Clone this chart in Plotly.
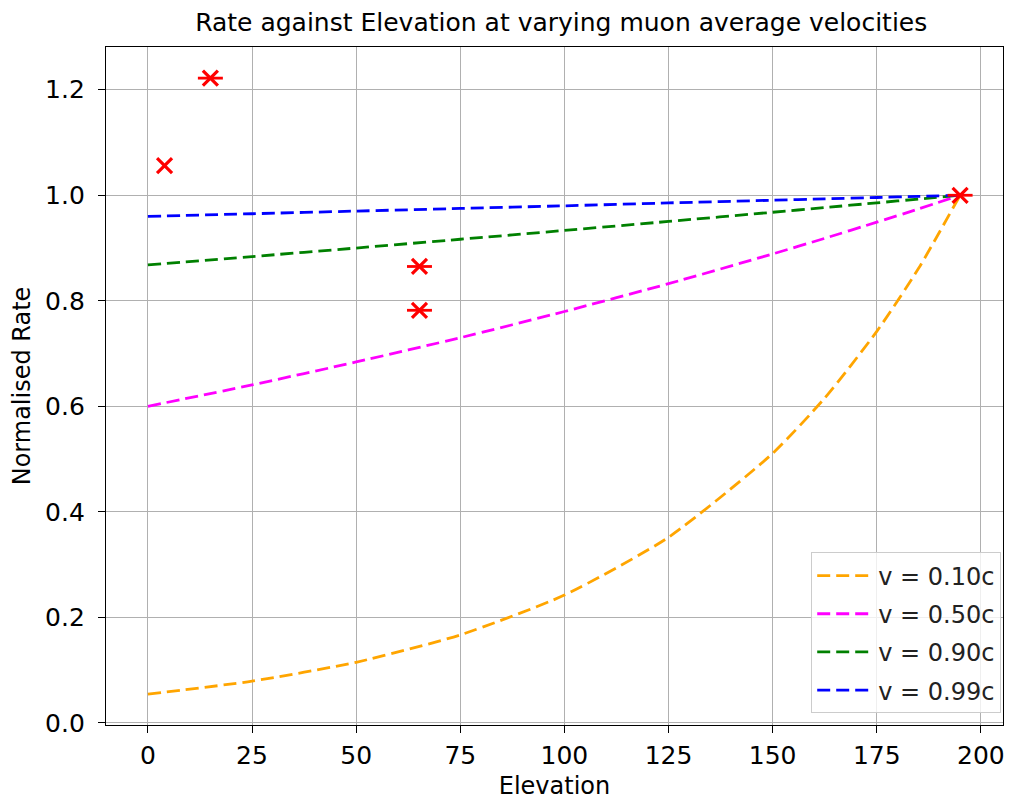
import plotly.graph_objects as go

# Elevation sample points for curves
elev = [0, 25, 50, 75, 100, 125, 150, 162.5, 175, 185, 195]
rate_010 = [0.0545, 0.0791, 0.1149, 0.1668, 0.2422, 0.3518, 0.5108, 0.6157, 0.742, 0.861, 1.0]
rate_050 = [0.600, 0.6406, 0.684, 0.730, 0.7797, 0.8324, 0.8888, 0.9184, 0.949, 0.974, 1.0]
rate_090 = [0.868, 0.8838, 0.900, 0.9166, 0.9333, 0.9504, 0.9678, 0.9767, 0.9856, 0.9928, 1.0]
rate_099 = [0.960, 0.965, 0.970, 0.975, 0.980, 0.9855, 0.9906, 0.9932, 0.9958, 0.9979, 1.0]

labels = ["v = 0.10c", "v = 0.50c", "v = 0.90c", "v = 0.99c"]
colors = ["#FFA500", "#FF00FF", "#008000", "#0000FF"]

# measured points
meas_x = [4, 15, 65.2, 65.2, 195]
meas_y = [1.056, 1.222, 0.865, 0.782, 1.0]
meas_xerr = [0, 3, 3, 3, 3]

x_ticks = [0, 25, 50, 75, 100, 125, 150, 175, 200]
y_ticks = [0.0, 0.2, 0.4, 0.6, 0.8, 1.0, 1.2]
y_ticktext = ["0.0", "0.2", "0.4", "0.6", "0.8", "1.0", "1.2"]

FONT = "DejaVu Sans"
TICK = 25
LAB = 24

fig = go.Figure()
for i, (ys, lab, col) in enumerate(zip([rate_010, rate_050, rate_090, rate_099], labels, colors)):
    fig.add_trace(go.Scatter(
        x=elev, y=ys, mode="lines", name=lab, legendgroup=f"g{i}",
        line=dict(color=col, width=2.8, dash="13px,6px", shape="spline", smoothing=0.6),
    ))

fig.add_trace(go.Scatter(
    x=meas_x, y=meas_y, mode="markers", showlegend=False,
    marker=dict(symbol="x-thin", size=15, color="red", line=dict(color="red", width=3.2)),
    error_x=dict(type="data", array=meas_xerr, color="red", thickness=2.8, width=0, visible=True),
))

axis_common = dict(
    showgrid=True, gridcolor="#b0b0b0", gridwidth=1,
    showline=True, linecolor="black", linewidth=1.3, mirror=True,
    ticks="outside", ticklen=7, tickcolor="black", tickwidth=1.3,
    zeroline=False, tickfont=dict(family=FONT, size=TICK, color="black"),
)

# page body adds an 8px offset; compensate in the figure size/margins
fig.update_layout(
    width=1004, height=794,
    margin=dict(l=98, r=7, t=39, b=77),
    paper_bgcolor="white", plot_bgcolor="white",
    font=dict(family=FONT, size=LAB, color="black"),
    title=dict(text="Rate against Elevation at varying muon average velocities",
               x=0.551, xanchor="center", y=0.982, yanchor="middle",
               font=dict(family=FONT, size=25, color="black")),
    xaxis=dict(range=[-10.06, 205.3], tickmode="array", tickvals=x_ticks,
               ticklabelstandoff=1,
               title=dict(text="Elevation", font=dict(family=FONT, size=LAB), standoff=8),
               **axis_common),
    yaxis=dict(range=[-0.004, 1.281], tickmode="array", tickvals=y_ticks, ticktext=y_ticktext,
               ticklabelstandoff=8,
               title=dict(text="Normalised Rate", font=dict(family=FONT, size=LAB), standoff=10),
               **axis_common),
    legend=dict(x=0.998, y=0.017, xanchor="right", yanchor="bottom",
                bgcolor="rgba(255,255,255,0.8)", bordercolor="#cccccc", borderwidth=1,
                font=dict(family=FONT, size=LAB, color="#222222"),
                itemwidth=56, tracegroupgap=4),
)

fig.write_html("out.html")
